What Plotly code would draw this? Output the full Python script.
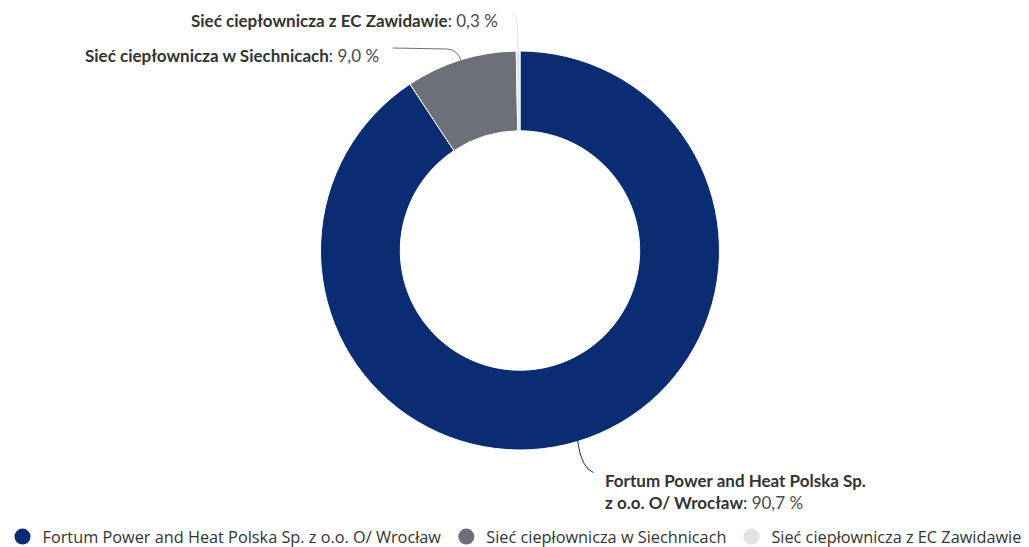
import math
import plotly.graph_objects as go

# ---- data ----
labels = [
    "Fortum Power and Heat Polska Sp. z o.o. O/ Wrocław",
    "Sieć ciepłownicza w Siechnicach",
    "Sieć ciepłownicza z EC Zawidawie",
]
label_lines = [
    ["Fortum Power and Heat Polska Sp.", "z o.o. O/ Wrocław"],
    ["Sieć ciepłownicza w Siechnicach"],
    ["Sieć ciepłownicza z EC Zawidawie"],
]
values = [90.7, 9.0, 0.3]
value_text = ["90,7 %", "9,0 %", "0,3 %"]
colors = ["#0a2c72", "#6e7079", "#e1e2ea"]

# ---- geometry ----
W, H = 1029, 547
CX, CY, R = 520, 250.5, 199.5
HOLE = 0.60


def px2paper(x, y):
    return x / W, 1 - y / H


fig = go.Figure()
x0, y0 = px2paper(CX - R, CY + R)
x1, y1 = px2paper(CX + R, CY - R)
fig.add_trace(go.Pie(
    labels=labels, values=values, sort=False, direction="clockwise", rotation=0,
    hole=HOLE, textinfo="none", hoverinfo="skip", showlegend=False,
    marker=dict(colors=colors, line=dict(color="#ffffff", width=1)),
    domain=dict(x=[x0, x1], y=[y0, y1]),
))

# legend entries with circular symbols
for lab, col in zip(labels, colors):
    fig.add_trace(go.Scatter(
        x=[None], y=[None], mode="markers", name=lab,
        marker=dict(symbol="circle", size=16, color=col),
        hoverinfo="skip",
    ))

# connectors and labels, positioned from slice mid angles
total = sum(values)
cum = 0
mids = []
for v in values:
    mids.append((cum + v / 2) / total)
    cum += v


def edge(frac):
    t = 2 * math.pi * frac
    return CX + R * math.sin(t), CY - R * math.cos(t)


def P(x, y):
    a, b = px2paper(x, y)
    return f"{a:.5f},{b:.5f}"


def label_text(i):
    lines = [f"<b>{s}</b>" for s in label_lines[i]]
    lines[-1] += f": <span style='color:#4a4a4a'>{value_text[i]}</span>"
    return "<br>".join(lines)


shapes = []
annotations = []
label_font = dict(family="Lato", size=17, color="#333333")

# slice 0 (bottom right)
ex, ey = edge(mids[0])
ey -= 1
path = f"M{P(ex, ey)} Q{P(ex + 4, ey + 28)} {P(ex + 16, ey + 32)}"
shapes.append(dict(type="path", path=path, xref="paper", yref="paper",
                   line=dict(color=colors[0], width=1)))
tx, ty = px2paper(ex + 26, ey + 51)
annotations.append(dict(
    x=tx, y=ty, xref="paper", yref="paper", xanchor="left", yanchor="middle",
    align="left", showarrow=False, font=label_font, text=label_text(0),
))

# slice 1 (top left)
ex, ey = edge(mids[1])
path = (f"M{P(ex, ey)} Q{P(ex - 4, ey - 11)} {P(ex - 14, ey - 11)} "
        f"L{P(ex - 68, ey - 12)}")
shapes.append(dict(type="path", path=path, xref="paper", yref="paper",
                   line=dict(color=colors[1], width=1)))
tx, ty = px2paper(ex - 80, ey - 5)
annotations.append(dict(
    x=tx, y=ty, xref="paper", yref="paper", xanchor="right", yanchor="middle",
    showarrow=False, font=label_font, text=label_text(1),
))

# slice 2 (top)
ex, ey = edge(mids[2])
path = (f"M{P(ex, ey)} L{P(ex - 1, ey - 29)} "
        f"Q{P(ex - 2, ey - 37)} {P(ex - 6, ey - 37)}")
shapes.append(dict(type="path", path=path, xref="paper", yref="paper",
                   line=dict(color=colors[2], width=1)))
tx, ty = px2paper(ex - 18, ey - 31)
annotations.append(dict(
    x=tx, y=ty, xref="paper", yref="paper", xanchor="right", yanchor="middle",
    showarrow=False, font=label_font, text=label_text(2),
))

fig.update_layout(
    width=W, height=H,
    margin=dict(l=0, r=0, t=0, b=0, autoexpand=False),
    paper_bgcolor="#ffffff", plot_bgcolor="#ffffff",
    xaxis=dict(visible=False), yaxis=dict(visible=False),
    shapes=shapes, annotations=annotations,
    showlegend=True,
    legend=dict(orientation="h", x=0.5, xanchor="center",
                xref="container", yref="container",
                y=1 - 537 / H, yanchor="middle",
                font=dict(family="Open Sans", size=16.3, color="#333333"),
                itemclick=False, itemdoubleclick=False),
    hovermode=False,
)

fig.write_html(
    "out.html",
    config={"displayModeBar": False},
    post_script="document.body.style.margin='0';document.body.style.overflow='hidden';",
)
